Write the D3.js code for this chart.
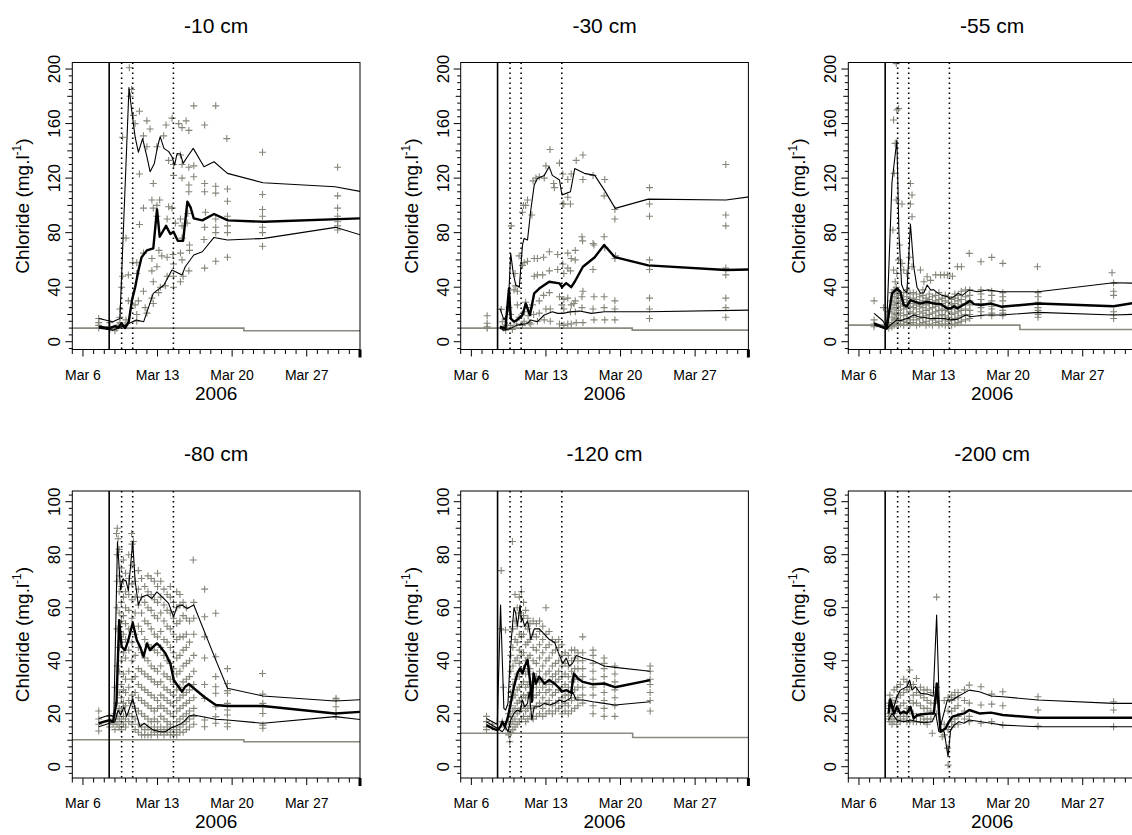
<!DOCTYPE html>
<html><head><meta charset="utf-8">
<script src="https://cdn.jsdelivr.net/npm/d3@7"></script>
<style>
body{margin:0;background:#fff}
svg{display:block}
text{font-family:"Liberation Sans",Arial,Helvetica,sans-serif;fill:#000}
</style>
</head><body>
<svg id="chart" width="1132" height="835"></svg>
<script>
// ---------------- DATA (days are day-of-March 2006, fractional) ----------------
const titles = ["-10 cm","-30 cm","-55 cm","-80 cm","-120 cm","-200 cm"];
const yMajorRow1 = [0,40,80,120,160,200];
const yMajorRow2 = [0,20,40,60,80,100];
const xMajorTicks = ["2006-03-06","2006-03-13","2006-03-20","2006-03-27"];
const xMajorLabels = ["Mar 6","Mar 13","Mar 20","Mar 27"];
const yearLabel = "2006";
const yLabelMain = "Chloride (mg.l";
const yLabelSup = "-1";
const eventSolid = [8.46];
const eventDotted = [9.63, 10.67, 14.49];

// -10 cm
const p10_upper = [[7.48,17],[8.8,14.7],[9.47,17],[10.32,186.5],[10.57,170],[10.9,150],[11.2,139],[11.6,149],[12,135.7],[12.3,124.7],[12.7,130.8],[13,143],[13.25,150.4],[13.6,141.8],[14.05,139.4],[14.35,135.7],[14.6,129.6],[14.83,138],[15.15,137.7],[15.4,130.8],[15.8,135.7],[16.35,141.8],[17.36,128.4],[18.3,132],[19.56,123.5],[22.9,116.6],[29.66,113.7],[32.2,110]];
const p10_median = [[7.5,11],[8.5,10],[9,11.5],[9.3,10],[9.6,13.5],[9.95,10],[10.3,14.7],[10.6,30.5],[10.9,40],[11.2,52],[11.5,62],[12,67],[12.6,68.5],[12.95,97],[13.2,77],[13.8,85],[14.2,79],[14.5,80.7],[14.9,74],[15.4,74],[15.8,102.7],[16.1,98.5],[16.4,90.5],[17.2,89],[18.3,93.7],[19.6,89],[23,88],[32.2,90.5]];
const p10_lower = [[7.5,10],[8.8,8.5],[9.95,12],[11,16],[11.7,14.7],[12.6,35.5],[13.6,41.6],[14.35,52.6],[15.3,49],[15.6,55],[16.4,63.6],[17.2,66],[18.3,76.5],[19.56,74.6],[23,75.8],[29.7,83.9],[32.2,78]];
const p10_ref = [[5,10],[21.1,10],[21.1,8],[32.5,8]];
const p10_points = [[7.48,17],[7.48,14],[7.48,12],[7.48,10],[8.52,14],[8.52,11],[8.52,9],[9.0,8],[9.15,10],[9.3,12],[9.47,14],[9.47,18],[9.47,24],
[9.63,40],[9.72,48],[9.72,150],[10.04,76],[9.94,12],[10.04,16],[10.26,30],[10.26,49],[10.35,201],[10.42,180],[10.57,185],[10.73,166],[10.67,58],
[10.89,160],[11.05,58],[11.05,50],[11.2,30],[10.89,27],[11.05,15],[11.05,20],[11.3,169],[11.3,123],[11.3,86],
[11.68,151],[12,162],[12,143],[11.68,98],[11.68,65],[11.68,37],[11.84,25],[12,21],
[12.3,156],[12.6,116],[12.47,104],[12.6,98],[12.47,61],[12.47,52],[12.6,44],[12.47,32],[12.6,28],
[12.94,143],[13.2,104],[12.94,100],[12.94,92],[13.13,67],[12.94,55],[13.26,40],[13.1,36],
[13.8,159],[13.57,151],[14.04,133],[14.04,99],[13.9,90],[13.4,63],[13.9,62],[13.9,48],[13.73,41],
[14.36,164],[14.5,130],[14.5,122],[14.36,98],[14.67,87],[14.45,64],[14.5,57],[14.5,48],[14.5,40],
[14.99,160],[15.3,157],[15.15,137],[15.3,130],[15.3,120],[15.15,90],[15.3,85],[15.3,76],[15.15,65],[15.3,60],[15.4,48],[15.15,44],
[15.68,162],[15.94,155],[15.94,128],[15.94,115],[15.94,110],[15.84,94],[15.78,87],[16.0,71],[16.0,67],[15.94,52],
[16.4,173],[16.4,129],[16.4,121],[17.42,159],[17.42,116],[17.42,110],[17.5,95],[17.42,84],[17.36,75],[17.42,54],
[18.46,173],[18.46,114],[18.46,109],[18.46,90],[18.46,84],[18.46,80],[18.46,59],
[19.5,149],[19.56,112],[19.56,103],[19.56,92],[19.56,85],[19.56,80],[19.56,62],
[22.85,139],[22.85,108],[22.85,97],[22.85,92],[22.85,84],[22.85,80],[22.85,70],
[29.9,128],[29.9,107],[29.9,98],[29.9,92],[29.9,88],[29.9,85],[29.9,82]];

// -30 cm
const p30_upper = [[8.68,24.5],[9.06,16],[9.44,22],[9.69,64.8],[9.94,50],[10.16,41.6],[10.5,40],[10.8,71],[10.95,75.8],[11.27,74.6],[11.58,96.6],[11.9,115],[12.2,119.8],[12.84,122],[13.3,128.4],[13.6,122],[14.27,118.6],[14.5,107.6],[14.9,108.8],[15.3,110],[15.7,127],[16.6,123.5],[17.58,122],[18.5,111],[19.5,97.8],[22.6,104.6],[29.9,104],[32.2,106.4]];
const p30_median = [[8.68,11],[9.2,9.8],[9.53,39],[9.7,17],[10,14.7],[10.3,16],[10.8,19.6],[11.1,28],[11.5,19.6],[11.9,35.5],[12.37,39],[13.3,44],[14.27,42.8],[14.5,40],[14.9,43],[15.37,40],[15.7,44],[16.47,55],[17.58,62],[18.46,71],[19.47,62],[22.6,56],[29.9,52.6],[32.2,53]];
const p30_lower = [[8.68,9.8],[9.06,8.5],[9.7,9.8],[10.3,12.2],[11.27,13.4],[11.58,16],[12.2,14.7],[12.84,19.6],[13.6,22],[14.1,20.8],[14.6,20.8],[15.37,22],[16.16,22.5],[17.26,20.8],[18.5,22],[22.6,22],[32.2,23.2]];
const p30_ref = [[5,10],[21.1,10],[21.1,8.5],[32.5,8.5]];
const p30_points = [[7.48,19],[7.48,13.5],[7.48,11],[7.48,9.8],[8.81,23.7],[8.9,14.7],[9.0,10],[9.38,12],[9.22,8.5],
[9.75,85],[9.53,25],[9.69,20],[9.69,12],[9.85,9],[10.1,50],[10.16,41],[10.32,37],[10.0,38],[10.48,63],[10.32,27],[10.26,13],[10.48,18],
[10.89,100],[10.8,95],[10.95,58],[10.8,56],[11.0,22],[10.95,15],[10.8,12],[11.1,29],
[11.27,104],[11.1,100],[11.27,59],[11.27,25],[11.33,19],[11.43,14],
[11.68,93],[11.8,118],[11.9,61],[11.9,48],[11.74,27],[11.84,20],[11.58,13],
[12.06,120],[12.37,121],[12.2,61],[12.2,49],[12.37,30],[12.37,21],[12.2,15],
[12.84,120],[13.0,129],[12.78,62],[12.69,49],[12.78,34],[13.0,24],[12.84,16],
[13.38,141],[13.73,116],[13.79,113],[13.32,66],[13.32,52],[13.32,36],[13.41,24],[13.41,15],
[14.27,131],[14.58,123],[14.58,101],[14.68,101],[14.1,64],[14.58,57],[14.1,53],[14.68,50],[14.27,33],[14.68,31],[14.49,27],[14.68,24],[14.27,13],[14.68,12],
[15.05,119],[15.05,106],[15.3,101],[15.37,123],[15.05,65],[15.37,61],[15.05,54],[15.3,52],[15.05,32],[15.37,27],[15.3,22],[15.05,13],[15.37,13],
[15.84,133],[15.75,67],[15.75,60],[15.75,30],[15.62,28],[15.75,22],[15.84,14],
[16.47,137],[16.47,119],[16.38,77],[16.44,74],[16.47,37],[16.38,33],[16.38,25],[16.47,14],
[17.42,122],[17.42,72],[17.51,71],[17.42,53],[17.51,33],[17.42,24],[17.51,16],
[18.52,119],[18.46,107],[18.46,77],[18.52,69],[18.46,33],[18.46,25],[18.52,16],
[19.47,97],[19.47,90],[19.53,63],[19.47,61],[19.47,30],[19.47,24],[19.47,16],
[22.72,113],[22.72,101],[22.72,92],[22.72,60],[22.72,53],[22.72,32],[22.72,24],[22.72,17],
[29.88,130],[29.88,93],[29.88,85],[29.88,54],[29.88,49],[29.88,32],[29.88,25],[29.88,18]];

// -55 cm
const p55_upper = [[7.42,20.8],[8.24,15.4],[8.6,10.5],[9.1,117],[9.56,148],[9.75,80],[10.0,42],[10.2,38],[10.5,36],[10.83,86.3],[11.14,55],[11.45,40],[11.77,35.5],[12.1,36],[12.4,41.6],[12.72,38],[13.03,38],[13.35,36],[13.8,34],[14.3,33],[14.6,31.8],[15.0,33.5],[15.3,35.5],[15.7,34],[16.35,38],[17.1,36.7],[18.06,38],[19.35,36.7],[22.8,36.7],[29.9,43.3],[32.5,42.8]];
const p55_median = [[7.42,13.4],[7.83,12.2],[8.15,11],[8.6,9.8],[9.1,35.5],[9.56,39],[9.88,36.7],[10.2,27],[10.5,26],[10.83,30.5],[11.3,29.3],[11.77,28],[12.4,29.3],[13.03,28],[13.66,27.6],[14.3,24.4],[14.6,24.4],[14.93,26],[15.24,24.4],[15.56,26],[16.03,28],[16.4,30],[16.8,27.6],[17.45,26.9],[18.4,28],[19.35,25.7],[22.8,28],[29.9,26],[32.5,29.3]];
const p55_lower = [[7.42,12.2],[8.6,9],[8.93,12.2],[9.56,16],[9.88,15.4],[10.5,17],[11.14,19.6],[11.6,18.3],[12.1,17.8],[12.72,17],[13.35,17],[14,17],[14.6,16],[15.24,16.4],[16.03,19.6],[16.5,18.3],[17.77,19.6],[19.35,19.6],[22.8,21.5],[29.9,19.6],[32.5,20.3]];
const p55_ref = [[5,12.2],[21.1,12.2],[21.1,9],[32.5,9]];
const p55_outliers = [[7.42,30],[7.42,16],[7.42,13],[7.42,11],[8.3,25],[9.5,204],[9.25,162.6],[9.72,171],[9.56,170],[9.31,123.5],[9.4,145.5],[9.5,104],[9.19,82],[9.82,71],[10.04,101],[10.83,116],[10.98,107.6],[10.83,101],[10.98,91.7],[10.76,62],[10.98,55],[10.04,57.5],[9.72,60],[9.25,52.6],[9.56,50],[9.4,44],[10.2,52.6],[10.5,50],[11.77,52.6],[12.4,47.7],[12.1,44],[12.72,45],[13.2,49],[13.66,49],[14,49],[14.3,49],[14.77,48],[15.24,55],[15.62,55],[16.35,64.8],[17.45,58.7],[18.46,61.9],[19.5,57.5],[22.75,55],[29.75,50.6]];
const p55_columns = [[8.8,[10,12,14,22]],[9.1,[11,14,18,24,30,36]],[9.3,[12,16,21,27,33,38]],[9.5,[13,17,20,25,29,35,40]],[9.7,[12,15,19,23,28,32,37]],[9.9,[13,16,21,26,30,34]],
[10.2,[12,15,19,24,27,31,36]],[10.5,[14,17,20,25,29,33,38]],[10.8,[13,16,22,26,30,35]],[11.1,[14,18,21,25,28,32,36]],[11.4,[12,16,20,24,27,31,35]],[11.7,[13,17,22,26,29,33]],
[12.0,[14,18,21,25,30,34,38]],[12.3,[12,15,19,23,27,32]],[12.6,[13,17,20,24,28,31,35]],[12.9,[12,16,21,25,29,33]],[13.2,[14,18,22,26,30,34]],[13.5,[12,15,19,23,27,31,36]],
[13.8,[13,17,20,24,28,32]],[14.1,[12,16,19,23,26,30,34]],[14.4,[13,15,18,22,25,29,33]],[14.7,[12,16,20,24,27,31]],[15.0,[13,17,21,25,28,32,35]],[15.3,[14,18,22,26,30,34]],
[15.6,[15,19,23,27,31,37]],[16.0,[16,20,24,28,33,38]],[16.4,[17,20,23,27,30,34,38]],[17.45,[19,22,25,28,31,35,38]],[18.46,[19,21,24,26,30,34,37]],[19.5,[19,21,23,26,30,33,36]],
[22.8,[18,20,23,25,29,33,36]],[29.9,[17,20,22,34,37,43]]];

// -80 cm
const p80_upper = [[7.48,18.2],[8.5,19.5],[8.9,19],[9.24,84.9],[9.53,66.7],[9.72,70.7],[10.04,70.2],[10.26,66.4],[10.67,84.9],[10.9,70],[11.2,61],[11.5,64],[12,64.8],[12.47,63.5],[12.94,66],[13.57,63.5],[14.04,61.6],[14.5,56.6],[14.83,60.4],[15.3,61],[15.78,59.7],[16.4,61],[18.46,40.3],[19.56,29.6],[22.88,26.7],[29.66,24.8],[32.5,25.4]];
const p80_median = [[7.48,16.4],[8.5,17.6],[8.83,17],[9.15,24.5],[9.4,55.3],[9.63,45.3],[9.94,44],[10.26,47.8],[10.67,54.3],[11.05,47.8],[11.36,45.3],[11.68,41.5],[12,46.5],[12.3,44],[12.6,45.3],[12.94,46.5],[13.26,45.3],[13.73,42.8],[14.2,39],[14.52,32.7],[15.3,28.3],[15.6,30.2],[15.94,31.2],[16.4,29.6],[17.36,26.4],[18.46,23.3],[19.56,22.9],[22.88,22.9],[29.66,20.1],[32.5,20.8]];
const p80_lower = [[7.48,15.1],[8.5,16.4],[9,17],[9.3,21.4],[9.53,19.5],[9.85,22.6],[10.1,18.9],[10.67,25.8],[11.0,20],[11.36,15.1],[11.74,16.4],[12.15,15.1],[12.6,13.8],[13.26,13.2],[13.73,13.2],[14.2,14.5],[14.67,15.3],[15.15,16.1],[15.47,17],[15.94,19.1],[16.4,19.5],[18.46,17.9],[19.56,17.6],[22.88,16.4],[29.66,18.9],[32.5,17.6]];
const p80_ref = [[5,10.2],[21.1,10.2],[21.1,9.4],[32.5,9.4]];
const p80_outliers = [[7.48,21],[7.48,18],[7.48,16],[7.48,13.5],[8.5,19],[8.5,17],[8.5,15],[8.83,18],[8.83,16],[9.22,90],[9.15,88],[9.3,86],[10.57,88],[10.73,85],[16.35,78],[17.42,67],[18.46,57.9],[19.56,37],[22.85,35.2],[29.75,25.8]];
const p80_columns = [[9.0,[14,17,20,30]],[9.2,[16,19,24,38,52,60,70,80]],[9.4,[15,18,22,28,36,45,58,66,72,82]],[9.6,[14,17,21,26,31,40,47,55,62,68,75]],
[9.8,[16,19,24,29,35,43,50,57,64,70,78]],[10.0,[15,18,23,28,33,41,48,54,60,66,73]],[10.3,[17,20,25,30,36,44,52,59,65,71,80]],[10.6,[16,19,24,27,33,40,47,56,63,69,76,84]],
[10.9,[14,18,22,28,34,42,50,58,64,70]],[11.2,[13,16,21,26,31,37,45,53,61,67,74]],[11.5,[12,15,20,25,30,36,43,51,58,64,71]],[11.8,[12,14,19,24,29,35,41,48,55,62,68]],
[12.1,[12,15,18,23,28,34,40,46,54,60,66,72]],[12.4,[12,14,17,22,27,33,38,45,52,59,65,71]],[12.7,[13,15,18,21,26,32,37,44,50,57,63,70]],[13.0,[12,14,17,22,25,31,36,43,49,56,62,68,73]],
[13.3,[13,15,19,23,27,32,38,45,51,58,64,70]],[13.6,[12,14,18,22,26,30,35,42,48,55,61,67]],[13.9,[13,15,17,21,25,29,34,40,47,53,59,65]],[14.2,[12,14,16,20,24,28,33,39,45,52,58,64,68]],
[14.5,[12,13,15,19,23,27,31,37,43,50,56,62]],[14.8,[12,14,17,21,25,29,35,41,48,54,60,66]],[15.1,[13,15,18,22,26,30,36,42,49,55,61,65]],[15.4,[13,16,19,23,27,32,38,44,49,57,62]],
[15.7,[14,17,20,24,28,33,39,45,50,56,60]],[16.0,[15,18,21,25,29,34,40,47,55]],[16.4,[16,19,22,26,31,36,42,50,56,62]],
[17.42,[15.1,17.6,25.8,31,41,49,56.6]],[18.46,[16.4,18.9,22.6,27.7,30.2,34,41.5]],[19.56,[15.1,16.4,19.5,21.4,23.9,27.7,28.7,31.4]],[22.88,[14.5,15.7,20.1,22.6,23.9,27.4]],[29.75,[18.9,20.1,22.6,25.2]]];

// -120 cm
const p120_upper = [[7.42,18.2],[7.96,17],[8.43,16],[8.74,61],[9.05,22],[9.22,21.4],[9.44,24],[9.69,45],[10.0,60],[10.16,58],[10.32,53],[10.57,61],[10.7,55],[10.8,56],[11.0,53],[11.27,55],[11.43,52],[11.58,48],[11.9,52],[12.37,52],[12.85,50],[13.32,48],[13.8,47],[14.27,42],[14.58,39],[14.9,41],[15.2,38],[15.5,39],[15.84,42],[16.47,41],[17.42,40],[18.46,38],[19.47,37.5],[22.78,36]];
const p120_median = [[7.42,15.7],[7.96,14.5],[8.43,13.8],[8.74,15.1],[8.9,17],[9.15,15.1],[9.44,18.9],[9.69,23.9],[10,30.2],[10.32,35.2],[10.57,37.1],[10.8,35.2],[11,37.7],[11.27,40.3],[11.5,32.7],[11.68,24.5],[11.84,35.2],[12.06,31.4],[12.37,34],[12.85,31.4],[13.32,32.7],[13.8,31.4],[14.27,29.6],[14.49,28.3],[14.9,28.9],[15.37,27.9],[15.62,35.2],[16,33.3],[16.47,32],[17.42,31.1],[18.46,31.4],[19.47,30],[22.78,32.7]];
const p120_lower = [[7.42,17],[8.43,14.5],[8.9,13.2],[9.2,15],[9.44,13.2],[9.69,17.6],[10,20.1],[10.32,21.4],[10.57,20.8],[10.8,25.2],[11,22.6],[11.27,23.9],[11.43,28.3],[11.68,17.6],[11.9,22.6],[12.37,22.6],[12.85,23.9],[13.32,23.3],[13.8,23.9],[14.27,25.2],[14.74,24.5],[15.3,25.8],[15.5,28.3],[15.84,25.2],[16.47,25.2],[17.42,24.5],[18.46,23.9],[19.47,23.3],[22.78,24.5]];
const p120_ref = [[5,12.6],[21.14,12.6],[21.14,11],[32.5,11]];
const p120_outliers = [[7.42,19],[7.42,17],[7.42,15],[7.42,14],[7.96,16],[7.96,15],[8.8,74],[8.74,52],[9.0,30],[9.2,51.6],[8.9,17],[9.2,15],[9.6,9.4],[9.85,85]];
const p120_columns = [[9.5,[12,14,17,20]],[9.7,[13,16,19,23,28,36,42]],[9.9,[14,17,21,26,31,38,45,52]],[10.1,[15,18,22,27,33,40,48,55,65]],
[10.3,[16,20,24,29,35,41,47,53,60]],[10.5,[17,21,25,30,34,39,44,50,58,64]],[10.7,[18,22,26,31,36,42,49,56,66]],[10.9,[19,23,27,32,37,43,50,57,62]],
[11.1,[17,21,26,30,35,40,46,53,59]],[11.3,[18,22,27,31,36,41,47,52,56]],[11.5,[19,23,28,32,37,42,48,54]],[11.8,[18,22,26,31,35,40,45,50,55]],
[12.1,[19,23,27,30,34,39,44,49,54]],[12.4,[20,24,28,32,36,41,46,51,55]],[12.7,[19,22,26,30,33,38,43,48,53]],[13.0,[20,24,28,31,35,40,45,50,60]],
[13.3,[21,25,29,32,36,41,46,51]],[13.6,[20,23,27,31,34,38,43,48]],[13.9,[21,24,28,32,35,39,44,47]],[14.2,[22,25,29,33,36,40,45,48]],
[14.5,[20,23,26,30,34,38,42,46]],[14.8,[21,24,27,31,35,39,43]],[15.1,[20,23,27,30,34,38,42]],[15.4,[21,25,28,32,36,40,44]],
[15.7,[22,26,29,33,37,41,44]],[16.0,[23,26,30,33,37,40,43]],[16.45,[24,27,30,34,37,40,43,49]],[17.42,[20,23,27,30,33,36,39,42,44]],
[18.46,[19,22,25,28,31,34,37,39,41]],[19.47,[19,23,26,29,32,35,38]],[22.78,[21,25,28,31,33,36,38]]];

// -200 cm
const p200_upper = [[8.78,22.6],[8.93,25.8],[9.25,22],[9.56,26.4],[9.88,28.9],[10.5,30.2],[10.76,32.7],[10.98,28.9],[11.3,30.2],[11.77,27.7],[12.4,27.4],[12.97,26.6],[13.29,57.2],[13.6,14.5],[14.3,25.2],[14.77,25.2],[15.24,26.4],[16.35,28.9],[17.3,28.3],[18.4,26.7],[19.5,26.4],[22.8,25.2],[29.9,23.9],[32.5,23.9]];
const p200_median = [[8.78,20.1],[8.93,25.2],[9.1,22.6],[9.3,20.1],[9.56,22.6],[9.88,20.1],[10.2,20.8],[10.5,20.1],[10.83,22.6],[11.14,18.2],[11.46,19.5],[12.1,19.9],[12.7,20.1],[13.03,20.1],[13.3,31.4],[13.66,13.2],[14.14,14.5],[14.45,17],[14.77,18.9],[15.24,19.5],[15.87,20.1],[16.35,21.4],[17.3,20.1],[18.4,20.4],[19.5,19.5],[22.8,18.5],[29.9,18.5],[32.5,18.5]];
const p200_lower = [[8.78,17.6],[9.1,20.1],[9.56,17.6],[10.2,17],[10.83,17.6],[11.46,17],[12.1,16.6],[12.88,17],[13.2,20.1],[13.5,13.2],[14,13.2],[14.36,3.8],[14.6,13.8],[14.93,15.7],[15.4,17],[15.87,16.4],[16.35,17.6],[18.4,16.4],[19.5,15.7],[22.8,15.1],[29.9,15.1],[32.5,15.1]];
const p200_ref = [];
const p200_outliers = [[13.29,64],[12.88,12.6],[13.82,11.3],[14.36,0.6],[14.3,7],[16.35,30.8],[17.45,30.2],[17.45,23.3],[17.45,16.4],[18.46,27.4],[18.46,23.6],[18.46,17],[19.5,28.3],[19.5,23],[19.5,15.7],[22.8,26.4],[22.8,21.4],[22.8,15.3],[29.9,24.5],[29.9,21.4],[29.9,15.1]];
const p200_columns = [[8.78,[24,22,20,18]],[8.9,[27,23,19,17]],[9.1,[25,21,18,16]],[9.3,[29,24,20,17]],[9.56,[30,26,22,18,16]],[9.88,[31,27,23,19,17]],
[10.2,[33,28,24,20,18]],[10.5,[32,29,22,19,17]],[10.76,[36.5,30,25,21,17]],[11.1,[31,27,24,20,17]],[11.4,[33.3,28,24,19,17]],[11.77,[30,27,23,19,17]],
[12.1,[29,26,22,18,17]],[12.4,[29,25,22,18,16]],[12.75,[28,24,21,18]],[13.29,[30,25,20]],[14.0,[12,16,25]],[14.36,[14,21,26]],
[14.7,[15,17,21,25,27]],[15.0,[16,18,22,26,28]],[15.3,[16,19,23,26,28]],[15.9,[18,21,25,29]],[16.35,[17,19,24]]];

// ---------------- BUILD ----------------
const panelData = [
  {upper:p10_upper, median:p10_median, lower:p10_lower, ref:p10_ref, pts:p10_points, cols:[]},
  {upper:p30_upper, median:p30_median, lower:p30_lower, ref:p30_ref, pts:p30_points, cols:[]},
  {upper:p55_upper, median:p55_median, lower:p55_lower, ref:p55_ref, pts:p55_outliers, cols:p55_columns},
  {upper:p80_upper, median:p80_median, lower:p80_lower, ref:p80_ref, pts:p80_outliers, cols:p80_columns},
  {upper:p120_upper, median:p120_median, lower:p120_lower, ref:p120_ref, pts:p120_outliers, cols:p120_columns},
  {upper:p200_upper, median:p200_median, lower:p200_lower, ref:p200_ref, pts:p200_outliers, cols:p200_columns}
];

const colLeft = [72.3, 460.7, 848.3];
const plotW = 287.7;
const rowTop = [62.5, 491];
const plotH = 287;
const yDomains = [[-5.7, 204.8], [-4.26, 104.04]];
const yMajors = [yMajorRow1, yMajorRow2];
const yMinorStep = [5, 2.5];
const yMidStep = [20, 10];

const dayToDate = d => new Date(Date.UTC(2006, 2, 1) + (d - 1) * 864e5);
const PTCOL = "#85857a";

const svg = d3.select("#chart");

panelData.forEach((P, i) => {
  const r = Math.floor(i / 3), c = i % 3;
  const L = colLeft[c], T = rowTop[r];
  const g = svg.append("g").attr("transform", `translate(${L},${T})`);
  const x = d3.scaleUtc().domain([new Date(Date.UTC(2006,2,5)), new Date(Date.UTC(2006,3,1))]).range([0, plotW]);
  const y = d3.scaleLinear().domain(yDomains[r]).range([plotH, 0]);

  const clipId = "clip" + i;
  g.append("clipPath").attr("id", clipId).append("rect").attr("x", 0).attr("y", 0).attr("width", plotW).attr("height", plotH);
  const inner = g.append("g").attr("clip-path", `url(#${clipId})`);

  // reference grey step
  if (P.ref.length) {
    inner.append("path").datum(P.ref)
      .attr("d", d3.line().x(d => x(dayToDate(d[0]))).y(d => y(d[1])))
      .attr("fill", "none").attr("stroke", "#8a8a80").attr("stroke-width", 1.6);
  }

  // points
  const pts = P.pts.concat(...P.cols.map(cl => cl[1].map(v => [cl[0], v])));
  inner.append("g").selectAll("path").data(pts).join("path")
    .attr("transform", d => `translate(${x(dayToDate(d[0]))},${y(d[1])})`)
    .attr("d", "M-3.5,0H3.5M0,-3.5V3.5")
    .attr("stroke", PTCOL).attr("stroke-width", 1.1).attr("fill", "none");

  // event lines
  eventSolid.forEach(e => {
    inner.append("line").attr("x1", x(dayToDate(e))).attr("x2", x(dayToDate(e)))
      .attr("y1", 0).attr("y2", plotH).attr("stroke", "#000").attr("stroke-width", 1.6);
  });
  eventDotted.forEach(e => {
    inner.append("line").attr("x1", x(dayToDate(e))).attr("x2", x(dayToDate(e)))
      .attr("y1", 0).attr("y2", plotH).attr("stroke", "#000").attr("stroke-width", 1.6)
      .attr("stroke-dasharray", "1.6,3.4");
  });

  // lines
  const line = d3.line().x(d => x(dayToDate(d[0]))).y(d => y(d[1]));
  inner.append("path").datum(P.upper).attr("d", line).attr("fill", "none").attr("stroke", "#000").attr("stroke-width", 1.1).attr("stroke-linejoin", "round");
  inner.append("path").datum(P.lower).attr("d", line).attr("fill", "none").attr("stroke", "#000").attr("stroke-width", 1.1).attr("stroke-linejoin", "round");
  inner.append("path").datum(P.median).attr("d", line).attr("fill", "none").attr("stroke", "#000").attr("stroke-width", 2.4).attr("stroke-linejoin", "round");

  // box
  g.append("rect").attr("x", 0).attr("y", 0).attr("width", plotW).attr("height", plotH)
    .attr("fill", "none").attr("stroke", "#000").attr("stroke-width", 1);

  // y axis ticks
  const [y0, y1] = yDomains[r];
  const minorVals = d3.range(Math.ceil(y0 / yMinorStep[r]) * yMinorStep[r], y1 + 0.001, yMinorStep[r]);
  const ya = g.append("g");
  minorVals.forEach(v => {
    const isMajor = yMajors[r].includes(+v.toFixed(3));
    const isMid = !isMajor && Math.abs(v / yMidStep[r] - Math.round(v / yMidStep[r])) < 1e-6 && v >= 0;
    const len = isMajor ? 7 : (isMid ? 5 : 3.5);
    ya.append("line").attr("x1", -len).attr("x2", 0).attr("y1", y(v)).attr("y2", y(v))
      .attr("stroke", "#000").attr("stroke-width", 1);
  });
  yMajors[r].forEach(v => {
    ya.append("text").attr("transform", `translate(-12,${y(v)}) rotate(-90)`)
      .attr("text-anchor", "middle").attr("font-size", 17).text(v);
  });

  // x axis
  const xa = g.append("g").attr("transform", `translate(0,${plotH})`);
  const days = d3.utcDay.range(new Date(Date.UTC(2006,2,5)), new Date(Date.UTC(2006,3,1)));
  const majorSet = xMajorTicks.map(s => +new Date(s + "T00:00:00Z"));
  days.forEach(d => {
    const isMajor = majorSet.includes(+d);
    xa.append("line").attr("x1", x(d)).attr("x2", x(d)).attr("y1", 0).attr("y2", isMajor ? 7 : 4.5)
      .attr("stroke", "#000").attr("stroke-width", 1);
  });
  const endX = x(new Date(Date.UTC(2006,3,1)));
  xa.append("line").attr("x1", endX).attr("x2", endX).attr("y1", 0).attr("y2", 8)
    .attr("stroke", "#000").attr("stroke-width", 3);
  xMajorTicks.forEach((s, k) => {
    xa.append("text").attr("x", x(new Date(s + "T00:00:00Z"))).attr("y", 30)
      .attr("text-anchor", "middle").attr("font-size", 14).text(xMajorLabels[k]);
  });
  xa.append("text").attr("x", plotW / 2).attr("y", 50).attr("text-anchor", "middle")
    .attr("font-size", 19).text(yearLabel);

  // title
  g.append("text").attr("x", plotW / 2).attr("y", -30).attr("text-anchor", "middle")
    .attr("font-size", 21).text(titles[i]);

  // y label
  const yl = g.append("text").attr("transform", `translate(-43,${plotH / 2}) rotate(-90)`)
    .attr("text-anchor", "middle").attr("font-size", 19);
  yl.append("tspan").text(yLabelMain);
  yl.append("tspan").attr("font-size", 12).attr("dy", -8).text(yLabelSup);
  yl.append("tspan").attr("dy", 8).text(")");
});
</script>
</body></html>
